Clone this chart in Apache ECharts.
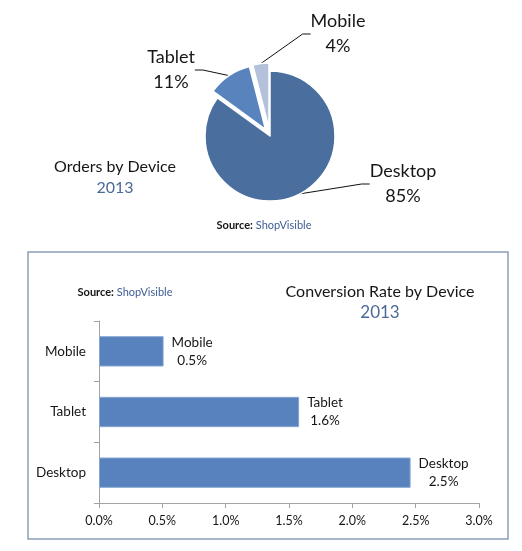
<!DOCTYPE html>
<html><head><meta charset="utf-8">
<script src="https://cdn.jsdelivr.net/npm/echarts@6/dist/echarts.min.js"></script>
<style>html,body{margin:0;padding:0;background:#fff}#c{width:522px;height:551px}</style>
</head><body><div id="c"></div>
<script>
// ---- data ----
const pieCategories = ['Desktop', 'Tablet', 'Mobile'];
const pieShares = [85, 11, 4];
const pieExploded = [false, true, true];
const barCategories = ['Desktop', 'Tablet', 'Mobile'];
const barValues = [2.46, 1.58, 0.51];
const xAxisMin = 0, xAxisMax = 3, xAxisStep = 0.5;

// ---- styling / layout ----
const FONT = 'Lato, "Open Sans", sans-serif';
const TEXT = '#161616';
const BLUE_TEXT = '#4a6a98';
const pieColors = ['#4a6f9e', '#5883bd', '#b3c1db'];
const pieCenter = [270, 136];
const pieRadius = 65;
const explodeOffset = 8;
// label block centers relative to pie center
const pieLabelOffsets = [[133, 48], [-99, -66], [68, -102]];

const chart = echarts.init(document.getElementById('c'), null, {renderer: 'canvas'});

const total = pieShares.reduce((a, b) => a + b, 0);
const pieSeries = pieCategories.map((cat, k) => {
  const before = pieShares.slice(0, k).reduce((a, b) => a + b, 0);
  const mid = (before + pieShares[k] / 2) / total * Math.PI * 2;
  const off = pieExploded[k] ? explodeOffset : 0;
  const center = [pieCenter[0] + Math.sin(mid) * off, pieCenter[1] - Math.cos(mid) * off];
  return {
    type: 'pie',
    center: center,
    radius: pieRadius,
    startAngle: 90,
    clockwise: true,
    silent: true,
    data: pieCategories.map((name, i) => i === k ? {
      name, value: pieShares[i],
      itemStyle: {color: pieColors[i], borderColor: '#fff', borderWidth: 1.5}
    } : {
      name, value: pieShares[i],
      itemStyle: {color: 'rgba(0,0,0,0)', borderColor: 'rgba(0,0,0,0)', borderWidth: 0},
      label: {show: false}, labelLine: {show: false}
    }),
    emphasis: {disabled: true},
    label: {
      show: true, position: 'outside',
      formatter: p => p.name + '\n' + p.value + '%',
      fontFamily: FONT, fontSize: 18, lineHeight: 25, color: TEXT
    },
    labelLine: {show: true, length: 12, length2: 8, lineStyle: {color: '#111', width: 1}},
    labelLayout: p => ({
      x: pieCenter[0] + pieLabelOffsets[p.dataIndex][0],
      y: pieCenter[1] + pieLabelOffsets[p.dataIndex][1],
      align: 'center', verticalAlign: 'middle'
    })
  };
});

chart.setOption({
  animation: false,
  backgroundColor: '#fff',
  grid: {left: 99, right: 43, top: 321, bottom: 48, outerBoundsMode: 'none'},
  xAxis: {
    type: 'value', min: xAxisMin, max: xAxisMax, interval: xAxisStep,
    axisLine: {show: true, lineStyle: {color: '#a3a3a3', width: 1}},
    axisTick: {show: true, length: 5, lineStyle: {color: '#a3a3a3'}},
    splitLine: {show: false},
    axisLabel: {formatter: v => v.toFixed(1) + '%', fontFamily: FONT, fontSize: 12.5, color: TEXT, margin: 11}
  },
  yAxis: {
    type: 'category', data: barCategories,
    axisLine: {show: true, lineStyle: {color: '#a3a3a3', width: 1}},
    axisTick: {show: true, length: 5, lineStyle: {color: '#a3a3a3'}},
    axisLabel: {fontFamily: FONT, fontSize: 13.5, color: TEXT, margin: 13}
  },
  series: pieSeries.concat([
    {
      type: 'bar',
      data: barValues,
      barWidth: '50%',
      itemStyle: {color: '#5882bd', borderColor: '#86a6d2', borderWidth: 1},
      emphasis: {disabled: true},
      label: {
        show: true, position: 'right', distance: 8,
        formatter: p => p.name + '\n' + p.value.toFixed(1) + '%',
        fontFamily: FONT, fontSize: 13.5, lineHeight: 18, color: TEXT
      },
      labelLayout: p => ({
        x: p.rect.x + p.rect.width + 8 + p.labelRect.width / 2,
        y: p.rect.y + p.rect.height / 2,
        align: 'center', verticalAlign: 'middle'
      })
    }
  ]),
  graphic: [
    {type: 'rect', z: -10, shape: {x: 28, y: 252, width: 480, height: 287},
     style: {fill: 'none', stroke: '#8d9db6', lineWidth: 1.5}},
    {type: 'text', x: 115, y: 167, style: {text: 'Orders by Device', fontFamily: FONT, fontSize: 16, fill: TEXT, align: 'center', verticalAlign: 'middle'}},
    {type: 'text', x: 115, y: 188, style: {text: '2013', fontFamily: FONT, fontSize: 16, fill: BLUE_TEXT, align: 'center', verticalAlign: 'middle'}},
    {type: 'text', x: 264, y: 225, style: {text: '{b|Source:}{l| ShopVisible}', fontFamily: FONT, fontSize: 11, align: 'center', verticalAlign: 'middle',
      rich: {b: {fontFamily: FONT, fontSize: 11, fontWeight: 'bold', fill: TEXT}, l: {fontFamily: FONT, fontSize: 11, fill: '#3c5c94'}}}},
    {type: 'text', x: 125, y: 292, style: {text: '{b|Source:}{l| ShopVisible}', fontFamily: FONT, fontSize: 11, align: 'center', verticalAlign: 'middle',
      rich: {b: {fontFamily: FONT, fontSize: 11, fontWeight: 'bold', fill: TEXT}, l: {fontFamily: FONT, fontSize: 11, fill: '#3c5c94'}}}},
    {type: 'text', x: 380, y: 292, style: {text: 'Conversion Rate by Device', fontFamily: FONT, fontSize: 16, fill: TEXT, align: 'center', verticalAlign: 'middle'}},
    {type: 'text', x: 380, y: 313, style: {text: '2013', fontFamily: FONT, fontSize: 17, fill: BLUE_TEXT, align: 'center', verticalAlign: 'middle'}}
  ]
});
</script></body></html>
